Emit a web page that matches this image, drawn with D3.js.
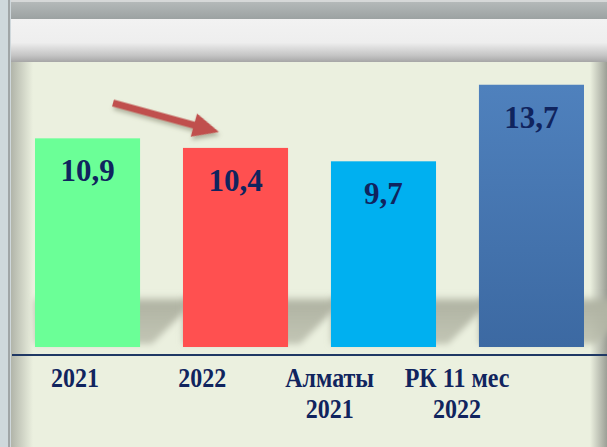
<!DOCTYPE html>
<html lang="ru">
<head>
    <meta charset="UTF-8">
    <title>Bar chart</title>
    <script type="text/javascript" src="https://cdn.jsdelivr.net/npm/d3@7"></script>
    <style>
        body { margin: 0; background: #cfd8dc; }
        svg { display: block; }
    </style>
</head>
<body>
<script>
    var categories = ["2021", "2022", "Алматы 2021", "РК 11 мес 2022"];
    var labelLines = [["2021"], ["2022"], ["Алматы", "2021"], ["РК 11 мес", "2022"]];
    var values = [10.9, 10.4, 9.7, 13.7];
    var valueLabels = ["10,9", "10,4", "9,7", "13,7"];
    var colors = ["#6bff97", "#ff5050", "#00b0f0", "url(#blueGrad)"];

    var w = 607;
    var h = 447;
    var svg = d3.select("body")
        .append("svg")
        .attr("width", w)
        .attr("height", h);

    var defs = svg.append("defs");
    function linGrad(id, x1, y1, x2, y2, stops) {
        var g = defs.append("linearGradient").attr("id", id)
            .attr("x1", x1).attr("y1", y1).attr("x2", x2).attr("y2", y2);
        stops.forEach(function (s) {
            g.append("stop").attr("offset", s[0]).attr("stop-color", s[1])
                .attr("stop-opacity", s.length > 2 ? s[2] : 1);
        });
    }
    linGrad("blueGrad", 0, 0, 0, 1, [[0, "#4f81bd"], [1, "#3c69a2"]]);
    linGrad("topBand", 0, 0, 0, 1, [[0, "#b4b9b9"], [1, "#9ca2a2"]]);
    linGrad("lightBand", 0, 0, 0, 1, [[0, "#f2f2f2"], [0.55, "#eeeeee"], [0.85, "#c4c4c4"], [1, "#a6a6a6"]]);
    linGrad("leftShade", 0, 0, 1, 0, [[0, "#a3a69c"], [1, "#ebf0df"]]);
    linGrad("rightShade", 0, 0, 1, 0, [[0, "#ebf0df"], [1, "#9c9f96"]]);
    linGrad("shadowGrad", 0, 0, 0, 1, [[0, "#b0b3a3", 0.1], [0.15, "#b0b3a3", 1], [1, "#b8bbaa", 0.8]]);

    var blur = defs.append("filter").attr("id", "blur")
        .attr("x", "-50%").attr("y", "-50%").attr("width", "200%").attr("height", "200%");
    blur.append("feGaussianBlur").attr("stdDeviation", 3);
    var drop = defs.append("filter").attr("id", "drop")
        .attr("x", "-30%").attr("y", "-50%").attr("width", "160%").attr("height", "200%");
    drop.append("feDropShadow").attr("dx", 2).attr("dy", 3).attr("stdDeviation", 2)
        .attr("flood-color", "#6b6b55").attr("flood-opacity", 0.45);

    // frame
    svg.append("rect").attr("x", 0).attr("y", 0).attr("width", w).attr("height", h).attr("fill", "#cfd8dc");
    svg.append("rect").attr("x", 8).attr("y", 0).attr("width", 2).attr("height", h).attr("fill", "#a0a5a7");
    svg.append("rect").attr("x", 11).attr("y", 0).attr("width", w - 11).attr("height", 2).attr("fill", "#d6d8d8");
    svg.append("rect").attr("x", 11).attr("y", 2).attr("width", w - 11).attr("height", 17).attr("fill", "url(#topBand)");
    svg.append("rect").attr("x", 11).attr("y", 19).attr("width", w - 11).attr("height", 43).attr("fill", "url(#lightBand)");
    svg.append("rect").attr("x", 11).attr("y", 62).attr("width", w - 11).attr("height", h - 62).attr("fill", "#ebf0df");
    svg.append("rect").attr("x", 11).attr("y", 62).attr("width", 22).attr("height", h - 62).attr("fill", "url(#leftShade)").attr("opacity", 0.8);
    svg.append("rect").attr("x", 590).attr("y", 62).attr("width", 17).attr("height", h - 62).attr("fill", "url(#rightShade)");

    var x = d3.scaleBand()
        .domain(categories)
        .range([35, 584])
        .paddingInner(0.29)
        .paddingOuter(0);
    var xLabel = d3.scalePoint()
        .domain(categories)
        .range([75, 457]);
    var y = d3.scaleLinear()
        .domain([0, 14])
        .range([347, 79]);

    // slanted soft shadows behind bars
    svg.selectAll("polygon.shadow")
        .data(values)
        .enter()
        .append("polygon")
        .attr("class", "shadow")
        .attr("points", function (d, i) {
            var x0 = x(categories[i]), x1 = x0 + x.bandwidth(), yb = y(0) - 3, yt = 296;
            return [[x0, yb], [x1 + 12, yb], [x1 + 12 + (yb - yt), yt], [x0, yt]]
                .map(function (p) { return p.join(","); }).join(" ");
        })
        .attr("fill", "url(#shadowGrad)")
        .attr("filter", "url(#blur)");

    svg.selectAll("rect.bar")
        .data(values)
        .enter()
        .append("rect")
        .attr("class", "bar")
        .attr("x", function (d, i) { return x(categories[i]); })
        .attr("y", function (d) { return y(d); })
        .attr("width", x.bandwidth())
        .attr("height", function (d) { return y(0) - y(d); })
        .attr("fill", function (d, i) { return colors[i]; });

    svg.selectAll("text.value")
        .data(values)
        .enter()
        .append("text")
        .attr("class", "value")
        .text(function (d, i) { return valueLabels[i]; })
        .attr("x", function (d, i) { return x(categories[i]) + x.bandwidth() / 2; })
        .attr("y", function (d) { return y(d) + 43; })
        .attr("font-family", "'Liberation Serif', 'Times New Roman', serif")
        .attr("font-weight", "bold")
        .attr("font-size", "31px")
        .attr("fill", "#10245e")
        .attr("text-anchor", "middle");

    // baseline
    svg.append("line")
        .attr("x1", 12).attr("x2", w)
        .attr("y1", 355).attr("y2", 355)
        .attr("stroke", "#1f3864")
        .attr("stroke-width", 2);

    var labels = svg.selectAll("text.cat")
        .data(categories)
        .enter()
        .append("text")
        .attr("class", "cat")
        .attr("font-family", "'Liberation Serif', 'Times New Roman', serif")
        .attr("font-weight", "bold")
        .attr("font-size", "24px")
        .attr("fill", "#10245e")
        .attr("text-anchor", "middle")
        .attr("transform", function (d) { return "translate(" + xLabel(d) + ",387) scale(1,1.15)"; });
    labels.selectAll("tspan")
        .data(function (d, i) { return labelLines[i]; })
        .enter()
        .append("tspan")
        .attr("x", 0)
        .attr("y", function (d, i) { return i * 27; })
        .text(function (d) { return d; });

    // arrow 2021 -> 2022
    var ax0 = x(categories[0]) + 78, ay0 = 103;
    var ax1 = x(categories[1]) + 36, ay1 = 132;
    var ang = Math.atan2(ay1 - ay0, ax1 - ax0);
    var len = Math.hypot(ax1 - ax0, ay1 - ay0);
    var head = 26, sw = 3.5, hw = 12;
    var arrowPts = [[0, -sw], [len - head, -sw], [len - head, -hw], [len, 0],
        [len - head, hw], [len - head, sw], [0, sw]];
    svg.append("polygon")
        .attr("points", arrowPts.map(function (p) { return p.join(","); }).join(" "))
        .attr("transform", "translate(" + ax0 + "," + ay0 + ") rotate(" + (ang * 180 / Math.PI) + ")")
        .attr("fill", "#c0504d")
        .attr("filter", "url(#drop)");
</script>
</body>
</html>
